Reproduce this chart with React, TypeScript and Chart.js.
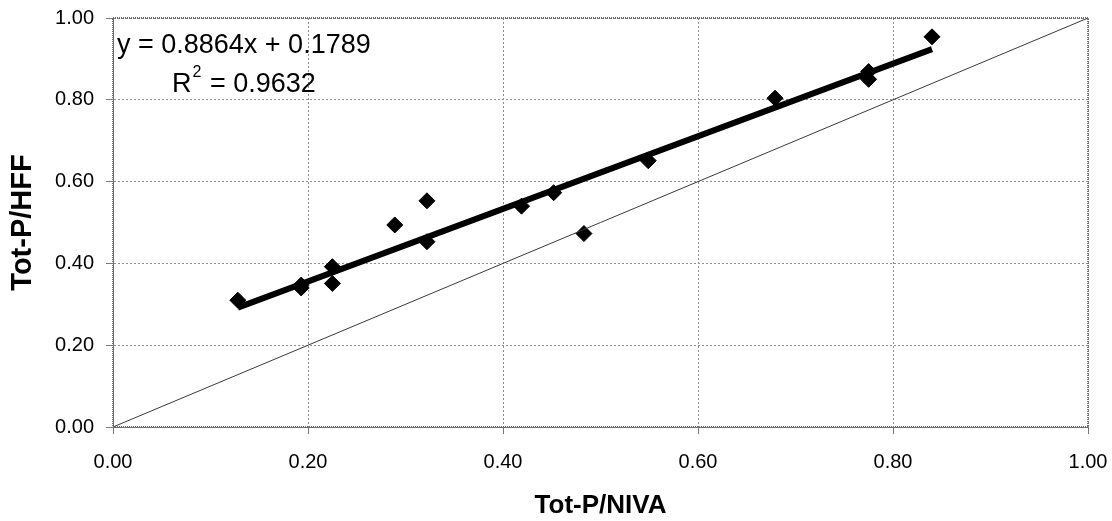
import React, { useEffect, useRef } from 'react';
import { Chart, registerables } from 'chart.js';

Chart.register(...registerables);

// Tot-P measured by NIVA (x) vs HFF (y)
const nivaValues = [0.128, 0.193, 0.193, 0.225, 0.225, 0.289, 0.322, 0.322, 0.419, 0.452, 0.483, 0.549, 0.679, 0.775, 0.775, 0.840];
const hffValues = [0.310, 0.347, 0.340, 0.392, 0.351, 0.494, 0.553, 0.453, 0.540, 0.573, 0.473, 0.651, 0.804, 0.869, 0.850, 0.954];

// Linear trend line end points (y = 0.8864x + 0.1789)
const trendX = [0.128, 0.840];
const trendY = [0.292, 0.924];

// 1:1 reference line
const diagX = [0, 1];
const diagY = [0, 1];

const xTickValues = [0, 0.2, 0.4, 0.6, 0.8, 1.0];
const yTickValues = [0, 0.2, 0.4, 0.6, 0.8, 1.0];

const equationText = 'y = 0.8864x + 0.1789';
const r2Label = 'R';
const r2Sup = '2';
const r2Value = ' = 0.9632';
const xTitle = 'Tot-P/NIVA';
const yTitle = 'Tot-P/HFF';

const FONT = "'Liberation Sans', Arial, sans-serif";

const framePlugin = {
  id: 'frameAndText',
  afterDatasetsDraw(chart: any) {
    const { ctx, chartArea } = chart;
    ctx.save();
    ctx.strokeStyle = '#6e6e6e';
    ctx.lineWidth = 2;
    ctx.setLineDash([1, 1]);
    ctx.strokeRect(chartArea.left, chartArea.top, chartArea.right - chartArea.left, chartArea.bottom - chartArea.top);
    ctx.restore();
  },
  afterDraw(chart: any) {
    const { ctx } = chart;
    ctx.save();
    ctx.fillStyle = '#000';
    ctx.textBaseline = 'alphabetic';
    ctx.textAlign = 'left';
    ctx.font = `27px ${FONT}`;
    ctx.fillText(equationText, 117, 53);
    ctx.fillText(r2Label, 172, 92);
    const rw = ctx.measureText(r2Label).width;
    ctx.font = `16px ${FONT}`;
    ctx.fillText(r2Sup, 172 + rw + 1, 77);
    const sw = ctx.measureText(r2Sup).width;
    ctx.font = `27px ${FONT}`;
    ctx.fillText(r2Value, 172 + rw + sw + 2, 92);
    ctx.restore();
  },
};

export default function App() {
  const canvasRef = useRef<HTMLCanvasElement | null>(null);

  useEffect(() => {
    if (!canvasRef.current) return;
    const scatterData = nivaValues.map((x, i) => ({ x, y: hffValues[i] }));
    const trendData = trendX.map((x, i) => ({ x, y: trendY[i] }));
    const diagData = diagX.map((x, i) => ({ x, y: diagY[i] }));

    const gridCommon = {
      color: '#8e8e8e',
      lineWidth: 1,
      drawTicks: true,
      tickLength: 7,
      tickColor: '#777',
      tickBorderDash: [],
    };

    const chart = new Chart(canvasRef.current, {
      type: 'scatter',
      data: {
        datasets: [
          {
            label: '1:1',
            data: diagData,
            showLine: true,
            borderColor: '#3a3a3a',
            borderWidth: 1,
            pointRadius: 0,
            fill: false,
          },
          {
            label: 'data',
            data: scatterData,
            backgroundColor: '#000',
            borderColor: '#000',
            borderWidth: 1,
            pointStyle: 'rectRot',
            pointRadius: 8,
            showLine: false,
          },
          {
            label: 'trend',
            data: trendData,
            showLine: true,
            borderColor: '#000',
            borderWidth: 6,
            borderCapStyle: 'butt',
            pointRadius: 0,
            fill: false,
          },
        ],
      },
      options: {
        responsive: false,
        animation: false,
        layout: { padding: { left: 0, top: 18, right: 24, bottom: 0 } },
        plugins: {
          legend: { display: false },
          tooltip: { enabled: false },
        },
        scales: {
          x: {
            type: 'linear',
            min: 0,
            max: 1,
            afterBuildTicks: (scale: any) => {
              scale.ticks = xTickValues.map((v) => ({ value: v }));
            },
            afterFit: (scale: any) => {
              scale.height = 94;
              scale.paddingLeft = 0;
              scale.paddingRight = 0;
            },
            ticks: {
              color: '#000',
              font: { family: FONT, size: 20 },
              padding: 16,
              maxRotation: 0,
              callback: (v: any) => Number(v).toFixed(2),
            },
            grid: gridCommon,
            border: { display: true, color: '#6e6e6e', width: 1, dash: [2, 2] },
            title: {
              display: true,
              text: xTitle,
              color: '#000',
              font: { family: FONT, size: 26, weight: 'bold' },
              padding: { top: 0, bottom: 0 },
            },
          },
          y: {
            type: 'linear',
            min: 0,
            max: 1,
            afterBuildTicks: (scale: any) => {
              scale.ticks = yTickValues.map((v) => ({ value: v }));
            },
            afterFit: (scale: any) => {
              scale.width = 113;
              scale.paddingTop = 0;
              scale.paddingBottom = 0;
            },
            ticks: {
              color: '#000',
              font: { family: FONT, size: 20 },
              padding: 12,
              callback: (v: any) => Number(v).toFixed(2),
            },
            grid: gridCommon,
            border: { display: true, color: '#6e6e6e', width: 1, dash: [2, 2] },
            title: {
              display: true,
              text: yTitle,
              color: '#000',
              font: { family: FONT, size: 29, weight: 'bold' },
              padding: { top: 6, bottom: 0 },
            },
          },
        },
      },
      plugins: [framePlugin],
    } as any);

    return () => {
      chart.destroy();
    };
  }, []);

  return (
    <div style={{ position: 'absolute', left: 0, top: 0, width: 1112, height: 521, background: '#fff' }}>
      <canvas ref={canvasRef} width={1112} height={521} style={{ display: 'block' }} />
    </div>
  );
}
